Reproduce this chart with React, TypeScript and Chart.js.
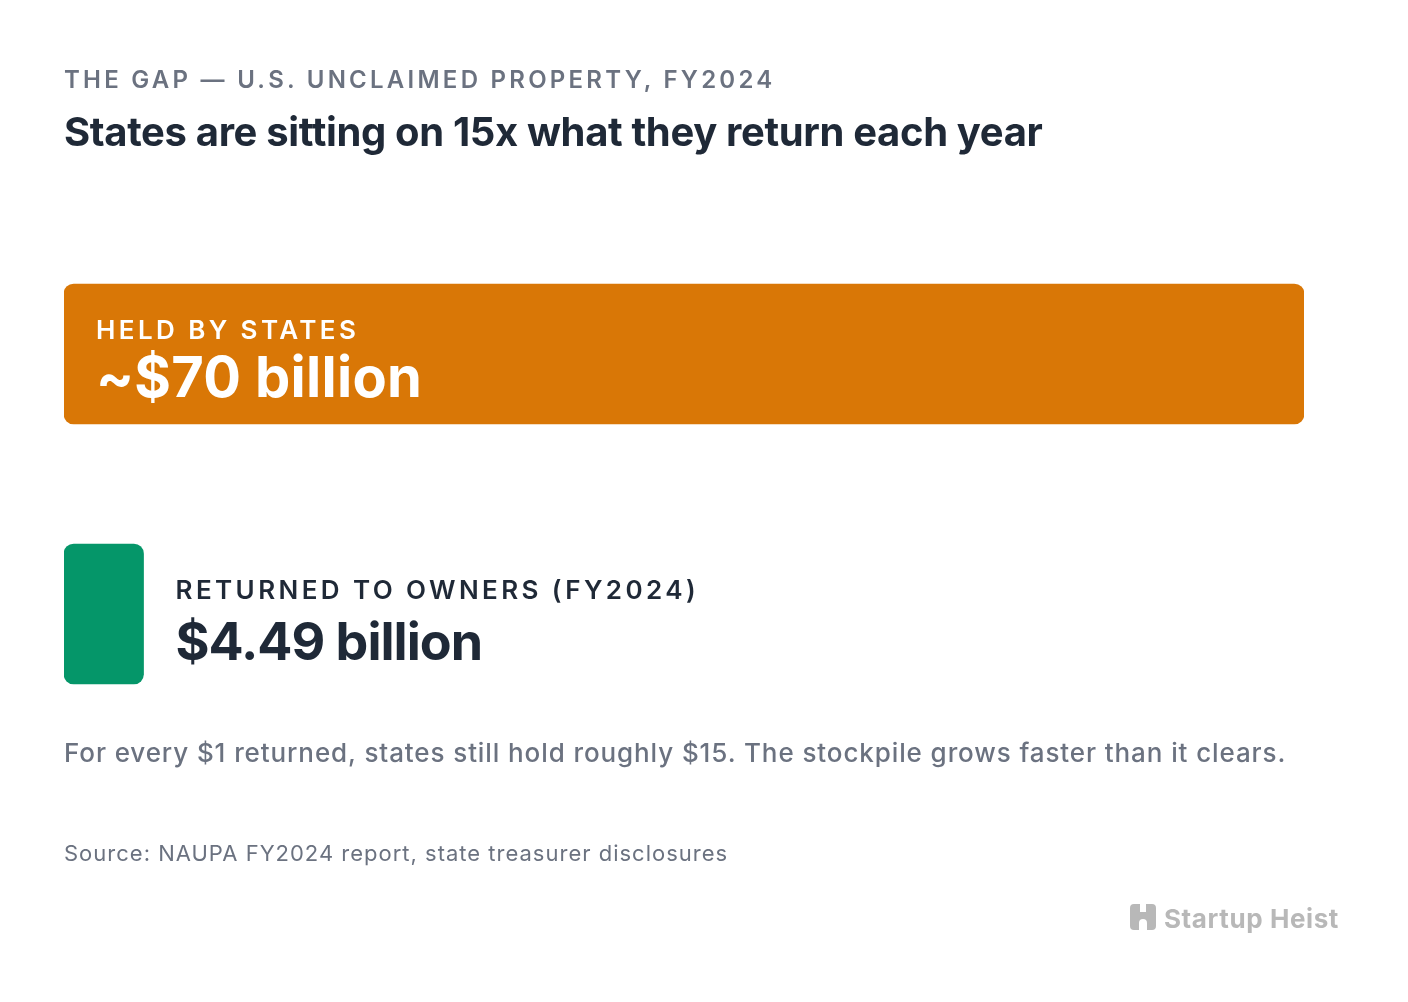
import React, { useEffect, useRef } from "react";
import { Chart, registerables } from "chart.js";

Chart.register(...registerables);

const kicker = "THE GAP — U.S. UNCLAIMED PROPERTY, FY2024";
const title = "States are sitting on 15x what they return each year";
const categories = ["HELD BY STATES", "RETURNED TO OWNERS (FY2024)"];
const values = [70, 4.49];
const valueLabels = ["~$70 billion", "$4.49 billion"];
const barColors = ["#D97706", "#059669"];
const note = "For every $1 returned, states still hold roughly $15. The stockpile grows faster than it clears.";
const source = "Source: NAUPA FY2024 report, state treasurer disclosures";
const brand = "Startup Heist";

const FONT = "Inter, 'Noto Sans', sans-serif";
const DARK = "#1F2937";
const GRAY = "#6B7280";

const labelPlugin = {
  id: "barLabels",
  afterDatasetsDraw(chart: any) {
    const ctx = chart.ctx as CanvasRenderingContext2D;
    const meta = chart.getDatasetMeta(0);
    meta.data.forEach((bar: any, i: number) => {
      const left = Math.min(bar.base, bar.x);
      const right = Math.max(bar.base, bar.x);
      const cy = bar.y;
      ctx.save();
      ctx.textBaseline = "alphabetic";
      ctx.textAlign = "left";
      ctx.font = `600 26px ${FONT}`;
      (ctx as any).letterSpacing = "3.4px";
      const w1 = ctx.measureText(categories[i]).width;
      ctx.font = `700 52px ${FONT}`;
      (ctx as any).letterSpacing = "-1px";
      const w2 = ctx.measureText(valueLabels[i]).width;
      const need = Math.max(w1, w2) + 64;
      const inside = right - left > need;
      const x = inside ? left + 32 : right + 32;
      const color = inside ? "#FFFFFF" : DARK;
      ctx.fillStyle = color;
      ctx.font = `600 26px ${FONT}`;
      (ctx as any).letterSpacing = "3.4px";
      ctx.fillText(categories[i], x, cy - 15);
      if (inside) {
        ctx.font = `700 56px ${FONT}`;
        (ctx as any).letterSpacing = "0.3px";
        ctx.fillText(valueLabels[i], x, cy + 43);
      } else {
        ctx.font = `700 52px ${FONT}`;
        (ctx as any).letterSpacing = "-1px";
        ctx.fillText(valueLabels[i], x, cy + 46);
      }
      ctx.restore();
    });
  },
};

function Text({ text, x, baseline, size, weight, color, spacing = 0 }: any) {
  return (
    <div
      style={{
        position: "absolute",
        left: x,
        top: baseline - 0.864 * size,
        fontFamily: FONT,
        fontSize: size,
        lineHeight: `${size}px`,
        fontWeight: weight,
        color,
        letterSpacing: spacing,
        whiteSpace: "nowrap",
      }}
    >
      {text}
    </div>
  );
}

export default function App() {
  const ref = useRef<HTMLCanvasElement>(null);
  useEffect(() => {
    if (!ref.current) return;
    const chart = new Chart(ref.current, {
      type: "bar",
      data: {
        labels: categories,
        datasets: [
          {
            data: values,
            backgroundColor: barColors,
            borderRadius: 10,
            borderSkipped: false,
            barThickness: 140,
          },
        ],
      },
      options: {
        indexAxis: "y",
        animation: false,
        responsive: false,
        devicePixelRatio: 1,
        layout: { padding: { left: 64, right: 104, top: 224, bottom: 258 } },
        scales: {
          x: { min: 0, max: 70, display: false },
          y: { display: false },
        },
        plugins: { legend: { display: false }, tooltip: { enabled: false } },
      },
      plugins: [labelPlugin],
    } as any);
    return () => chart.destroy();
  }, []);

  return (
    <div style={{ position: "absolute", left: 0, top: 0, width: 1408, height: 1002, background: "#FFFFFF", overflow: "hidden" }}>
      <canvas ref={ref} width={1408} height={1002} style={{ position: "absolute", left: 0, top: 0, width: 1408, height: 1002 }} />
      <Text text={kicker} x={64} baseline={89} size={24} weight={600} color={GRAY} spacing="3.25px" />
      <Text text={title} x={64} baseline={147} size={40} weight={700} color={DARK} spacing="-0.35px" />
      <Text text={note} x={64} baseline={762} size={26} weight={500} color={GRAY} spacing="0.9px" />
      <Text text={source} x={64} baseline={861} size={22} weight={400} color={GRAY} spacing="1px" />
      <svg style={{ position: "absolute", left: 1130, top: 904 }} width={26} height={26} viewBox="0 0 26 26">
        <path
          d="M4 0 H10 V8 H16 V0 H22 A4 4 0 0 1 26 4 V22 A4 4 0 0 1 22 26 H17 V19 A4 4 0 0 0 9 19 V26 H4 A4 4 0 0 1 0 22 V4 A4 4 0 0 1 4 0 Z"
          fill="#B8B8B8"
        />
      </svg>
      <Text text={brand} x={1164} baseline={928} size={26} weight={700} color="#B8B8B8" spacing="0.6px" />
    </div>
  );
}
